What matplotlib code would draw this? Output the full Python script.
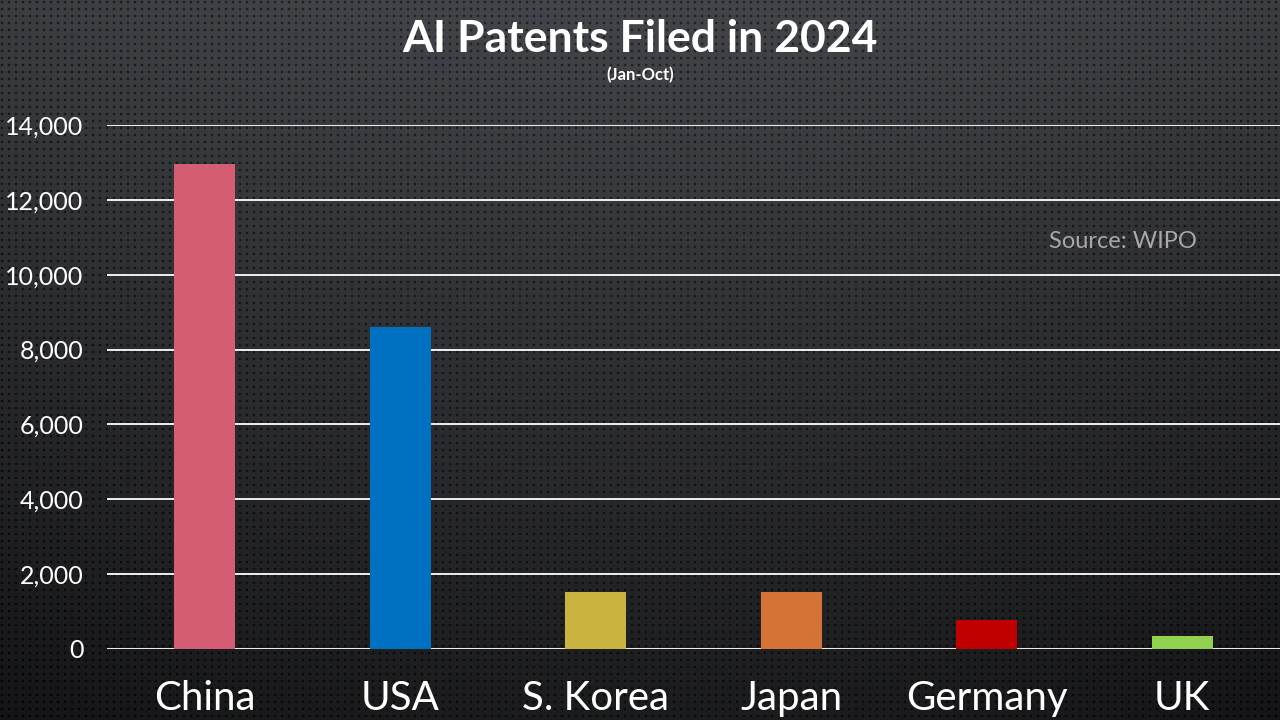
import numpy as np
import matplotlib
matplotlib.use("Agg")
import matplotlib.pyplot as plt

categories = ["China", "USA", "S. Korea", "Japan", "Germany", "UK"]
patents = [12950, 8600, 1530, 1530, 780, 350]
bar_colors = ["#D45D73", "#0070C0", "#C9B43F", "#D57235", "#C00000", "#92D050"]
yticks = [0, 2000, 4000, 6000, 8000, 10000, 12000, 14000]

W, H, DPI = 1280, 720, 100
fig = plt.figure(figsize=(W / DPI, H / DPI), dpi=DPI)

# textured background: vertical gradient + perforated dot pattern
bg = fig.add_axes([0, 0, 1, 1], zorder=-10)
yy, xx = np.mgrid[0:H, 0:W]
t = yy / (H - 1)
base = 0.27 * (1 - t) + 0.11 * t
base = base - 0.03 * ((xx - W / 2) / (W / 2)) ** 2
period = 7.0
d = np.hypot(((xx + 2) % period) - period / 2, ((yy + 2) % period) - period / 2)
dots = np.clip(1.8 - d, 0, 1)
img = base - 0.13 * dots * (1 - 0.5 * t)
img = np.clip(img, 0, 1)
rgb = np.stack([img * 0.98, img * 1.0, img * 1.07], axis=-1)
rgb = np.clip(rgb, 0, 1)
bg.imshow(rgb, aspect="auto", interpolation="nearest")
bg.set_axis_off()

ax = fig.add_axes([107 / W, 1 - 649 / H, (W - 107) / W, (649 - 125) / H])
ax.patch.set_alpha(0)
x = np.arange(len(categories))
ax.bar(x, patents, width=0.31, color=bar_colors, zorder=3)
ax.set_xlim(-0.5, len(categories) - 0.5)
ax.set_ylim(0, 14000)
ax.set_yticks(yticks)
ax.set_yticklabels([f"{v:,}" for v in yticks], color="white", fontsize=18,
                   fontfamily="Lato", fontweight="normal")
ax.set_xticks(x)
ax.set_xticklabels(categories, color="white", fontsize=29,
                   fontfamily="Lato", fontweight="normal")
ax.tick_params(axis="both", length=0)
ax.tick_params(axis="y", pad=17)
ax.tick_params(axis="x", pad=22)
for s in ax.spines.values():
    s.set_visible(False)
ax.grid(axis="y", color="white", linewidth=1.3, zorder=1)
ax.set_axisbelow(True)

fig.text(0.5, 1 - 39 / H, "AI Patents Filed in 2024", ha="center", va="center",
         color="white", fontsize=32, fontweight="bold", fontfamily="Lato")
fig.text(0.5, 1 - 75 / H, "(Jan-Oct)", ha="center", va="center",
         color="white", fontsize=12, fontweight="bold", fontfamily="Lato")
fig.text(1123 / W, 1 - 242 / H, "Source: WIPO", ha="center", va="center",
         color="#a8a8a8", fontsize=17, fontfamily="Lato", fontweight="normal")

fig.savefig("out.png", dpi=DPI)
